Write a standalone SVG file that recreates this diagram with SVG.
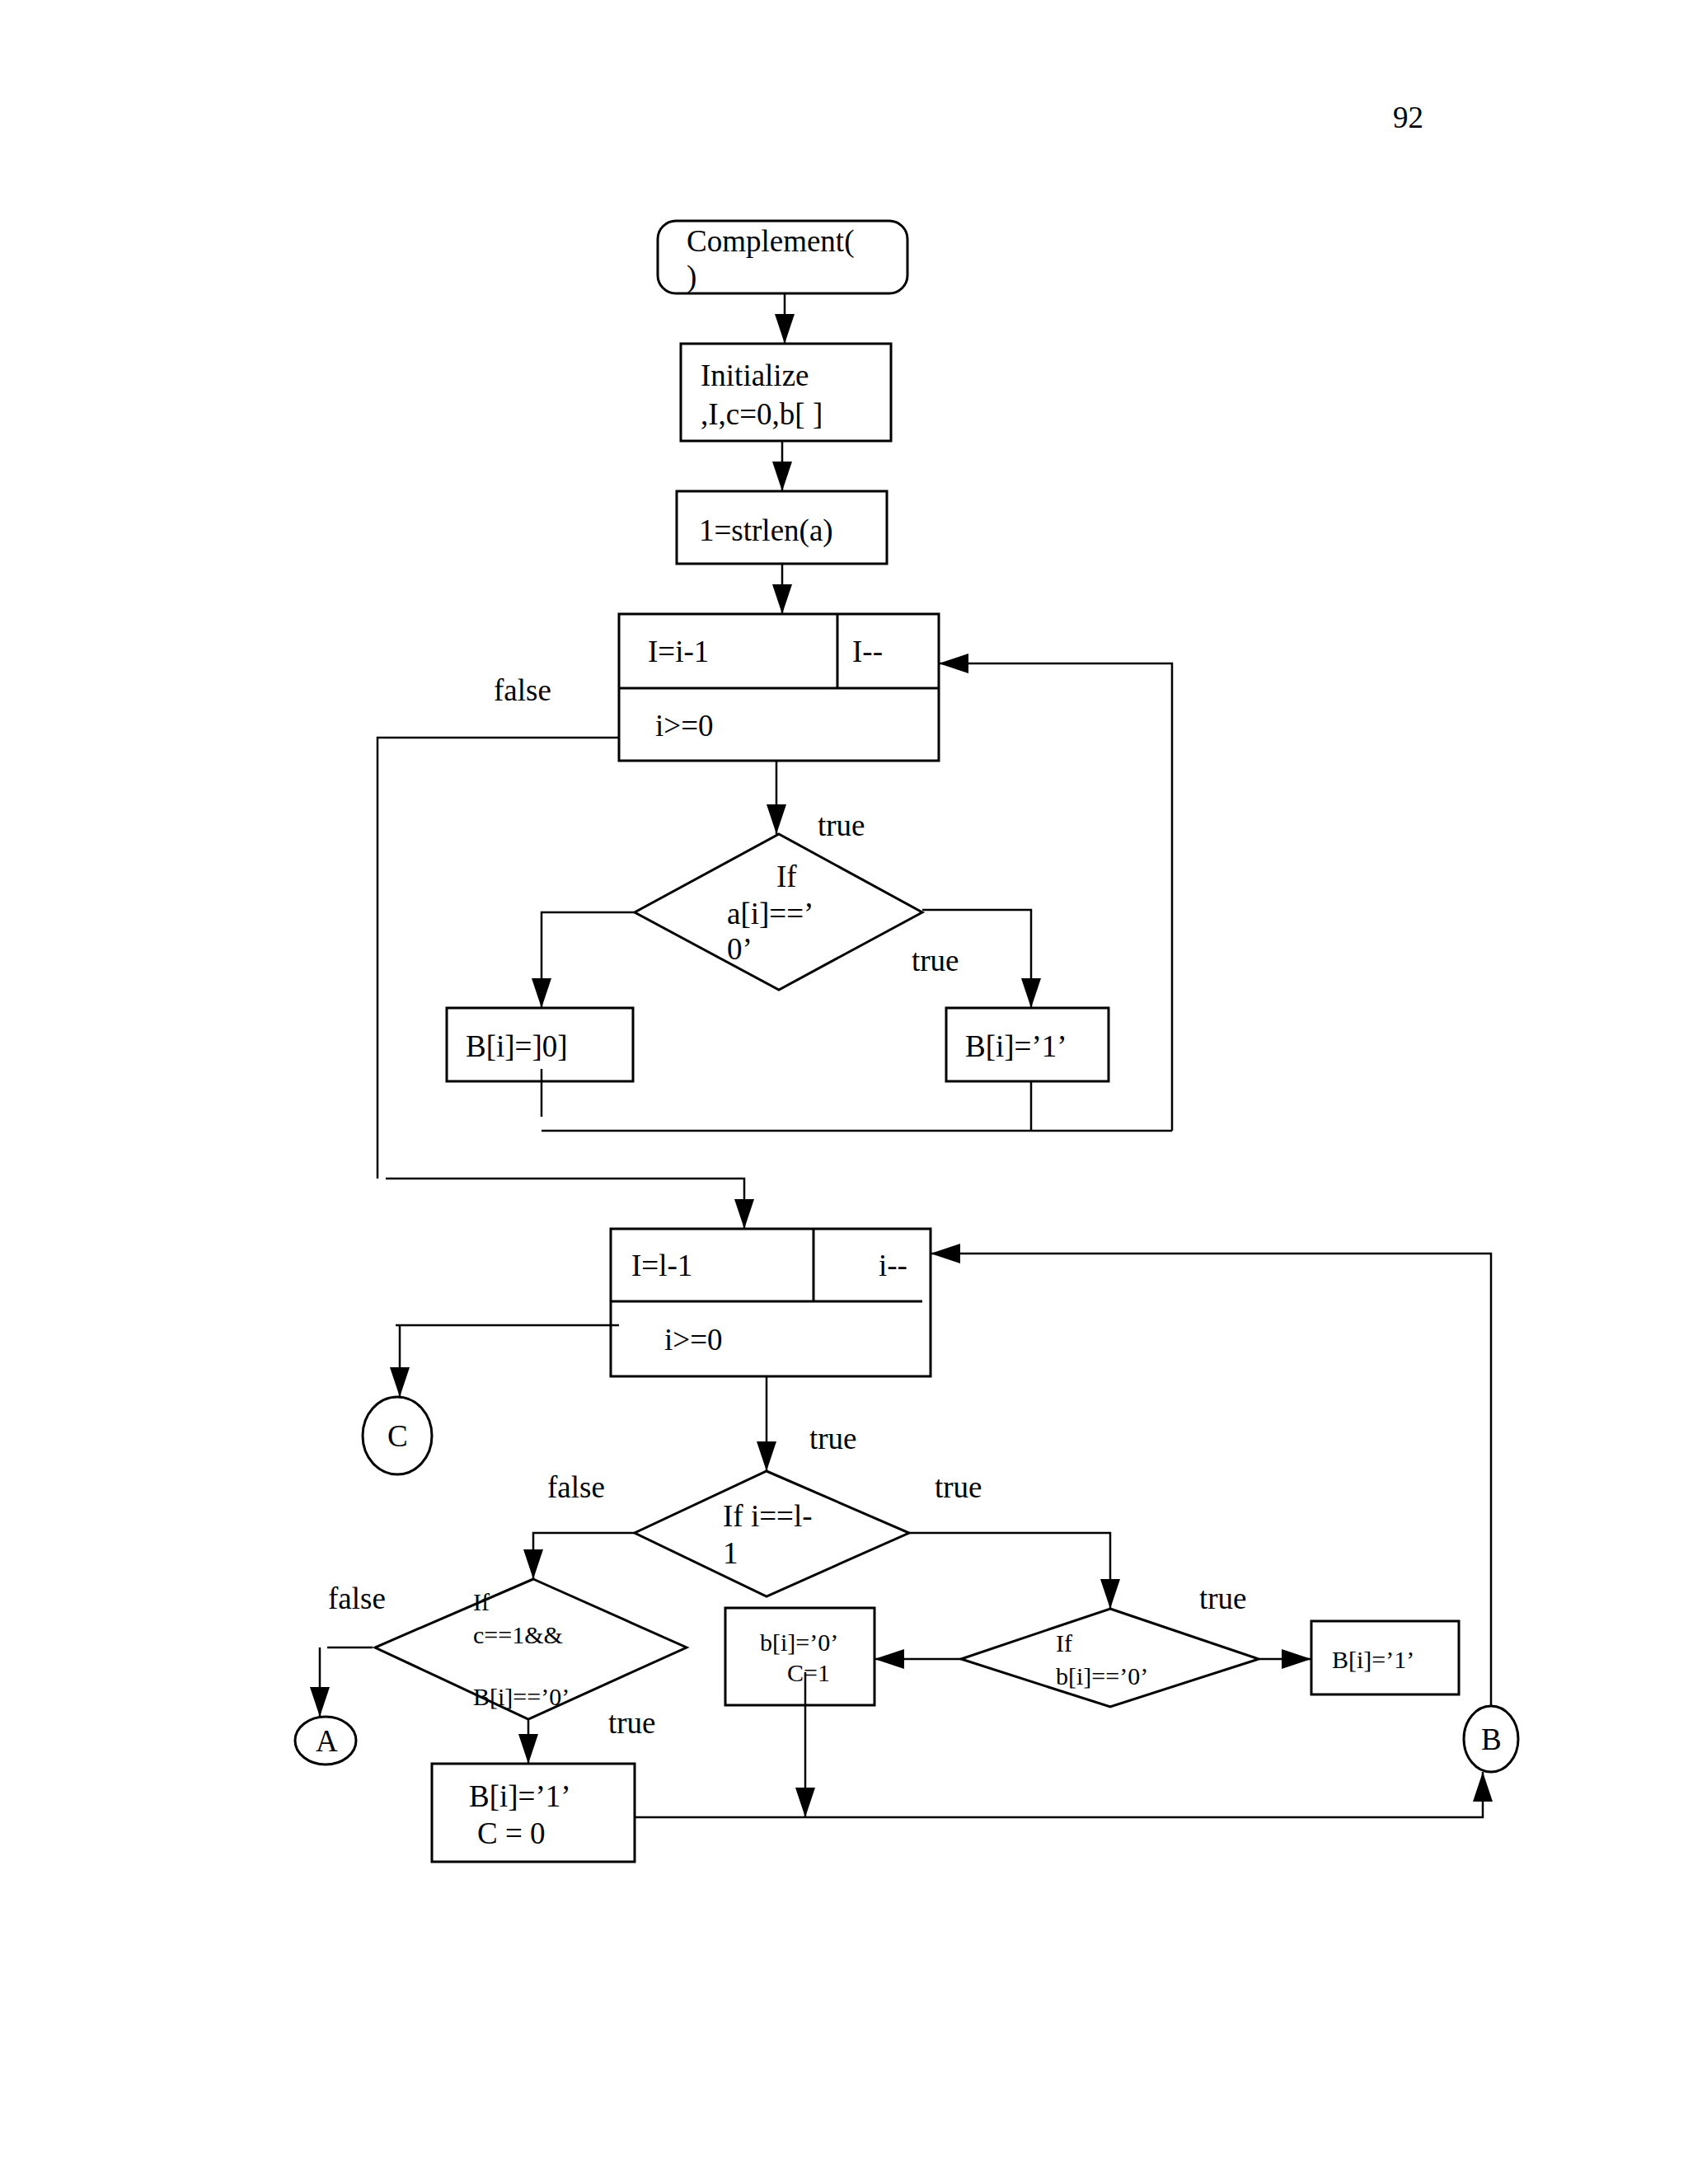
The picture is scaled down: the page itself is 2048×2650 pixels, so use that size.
<svg xmlns="http://www.w3.org/2000/svg" width="2048" height="2650" viewBox="0 0 2048 2650">
<defs>
<marker id="ah" markerUnits="userSpaceOnUse" markerWidth="38" markerHeight="26" refX="36" refY="12" orient="auto"><path d="M0,0 L36,12 L0,24 Z" fill="#000"/></marker>
</defs>
<style>
.s{fill:none;stroke:#000;stroke-width:3}
.l{fill:none;stroke:#000;stroke-width:2.5}
text{font-family:"Liberation Serif","Times New Roman",serif;font-size:37px;fill:#000}
.sm{font-size:30px}
</style>
<rect width="2048" height="2650" fill="#fff"/>
<text x="1690" y="155">92</text>
<g id="start"><rect class="s" x="798" y="268" width="303" height="88" rx="22"/><text x="833" y="305">Complement(</text><text x="833" y="348">)</text></g>
<g id="init"><rect class="s" x="826" y="417" width="255" height="118"/><text x="850" y="468">Initialize</text><text x="850" y="515">,I,c=0,b[ ]</text></g>
<g id="strlen"><rect class="s" x="821" y="596" width="255" height="88"/><text x="848" y="656">1=strlen(a)</text></g>
<g id="loop1"><rect class="s" x="751" y="745" width="388" height="178"/><path class="s" d="M751,835 H1139 M1016,745 V835"/><text x="786" y="803">I=i-1</text><text x="1034" y="803">I--</text><text x="795" y="893">i&gt;=0</text></g>
<g id="dec1"><path class="s" d="M945,1012 L1119,1107 L945,1201 L770,1107 Z"/><text x="942" y="1076">If</text><text x="882" y="1121">a[i]==’</text><text x="882" y="1164">0’</text></g>
<g id="b0"><rect class="s" x="542" y="1223" width="226" height="89"/><text x="565" y="1282">B[i]=]0]</text></g>
<g id="b1"><rect class="s" x="1148" y="1223" width="197" height="89"/><text x="1171" y="1282">B[i]=’1’</text></g>
<g id="loop2"><rect class="s" x="741" y="1491" width="388" height="179"/><path class="s" d="M741,1579 H1119 M987,1491 V1579"/><text x="766" y="1548">I=l-1</text><text x="1066" y="1548">i--</text><text x="806" y="1638">i&gt;=0</text></g>
<g id="connC"><ellipse class="s" cx="482" cy="1742" rx="42" ry="47"/><text x="470" y="1755">C</text></g>
<g id="dec2"><path class="s" d="M930,1785 L1103,1860 L930,1937 L770,1860 Z"/><text x="877" y="1852">If i==l-</text><text x="877" y="1897">1</text></g>
<g id="dec3"><path class="s" d="M647,1916 L833,1999 L641,2086 L455,1999 Z"/><text class="sm" x="574" y="1954">If</text><text class="sm" x="574" y="1994">c==1&amp;&amp;</text><text class="sm" x="574" y="2069">B[i]==’0’</text></g>
<g id="connA"><ellipse class="s" cx="395" cy="2112" rx="37" ry="29"/><text x="383" y="2125">A</text></g>
<g id="setb1c0"><rect class="s" x="524" y="2140" width="246" height="119"/><text x="569" y="2192">B[i]=’1’</text><text x="579" y="2237">C = 0</text></g>
<g id="dec4"><path class="s" d="M1347,1952 L1527,2013 L1347,2071 L1166,2013 Z"/><text class="sm" x="1281" y="2004">If</text><text class="sm" x="1281" y="2044">b[i]==’0’</text></g>
<g id="setb0c1"><rect class="s" x="880" y="1951" width="181" height="118"/><text class="sm" x="922" y="2003">b[i]=’0’</text><text class="sm" x="955" y="2040">C=1</text></g>
<g id="setb1"><rect class="s" x="1591" y="1967" width="179" height="89"/><text class="sm" x="1616" y="2024">B[i]=’1’</text></g>
<g id="connB"><ellipse class="s" cx="1809" cy="2110" rx="33" ry="40"/><text x="1797" y="2123">B</text></g>
<g id="labels">
<text x="599" y="850">false</text><text x="992" y="1014">true</text><text x="1106" y="1178">true</text>
<text x="982" y="1758">true</text><text x="664" y="1817">false</text><text x="1134" y="1817">true</text>
<text x="398" y="1952">false</text><text x="738" y="2103">true</text><text x="1455" y="1952">true</text>
</g>
<g id="connectors">
<path class="l" d="M952,356 V417" marker-end="url(#ah)"/>
<path class="l" d="M949,535 V596" marker-end="url(#ah)"/>
<path class="l" d="M949,684 V745" marker-end="url(#ah)"/>
<path class="l" d="M751,895 H458 V1430"/>
<path class="l" d="M468,1430 H903 V1491" marker-end="url(#ah)"/>
<path class="l" d="M942,923 V1012" marker-end="url(#ah)"/>
<path class="l" d="M770,1107 H657 V1223" marker-end="url(#ah)"/>
<path class="l" d="M1119,1104 H1251 V1223" marker-end="url(#ah)"/>
<path class="l" d="M657,1297 V1355"/>
<path class="l" d="M657,1372 H1422 M1251,1312 V1372"/>
<path class="l" d="M1422,1372 V805 H1139" marker-end="url(#ah)"/>
<path class="l" d="M1809,2070 V1521 H1129" marker-end="url(#ah)"/>
<path class="l" d="M751,1608 H480 M485,1608 V1695" marker-end="url(#ah)"/>
<path class="l" d="M930,1670 V1785" marker-end="url(#ah)"/>
<path class="l" d="M770,1860 H647 V1916" marker-end="url(#ah)"/>
<path class="l" d="M1103,1860 H1347 V1952" marker-end="url(#ah)"/>
<path class="l" d="M452,1999 H397 M388,1999 V2083" marker-end="url(#ah)"/>
<path class="l" d="M641,2086 V2140" marker-end="url(#ah)"/>
<path class="l" d="M770,2205 H1799 V2150" marker-end="url(#ah)"/>
<path class="l" d="M977,2029 V2205" marker-end="url(#ah)"/>
<path class="l" d="M1527,2013 H1591" marker-end="url(#ah)"/>
<path class="l" d="M1166,2013 H1061" marker-end="url(#ah)"/>
</g>
</svg>
